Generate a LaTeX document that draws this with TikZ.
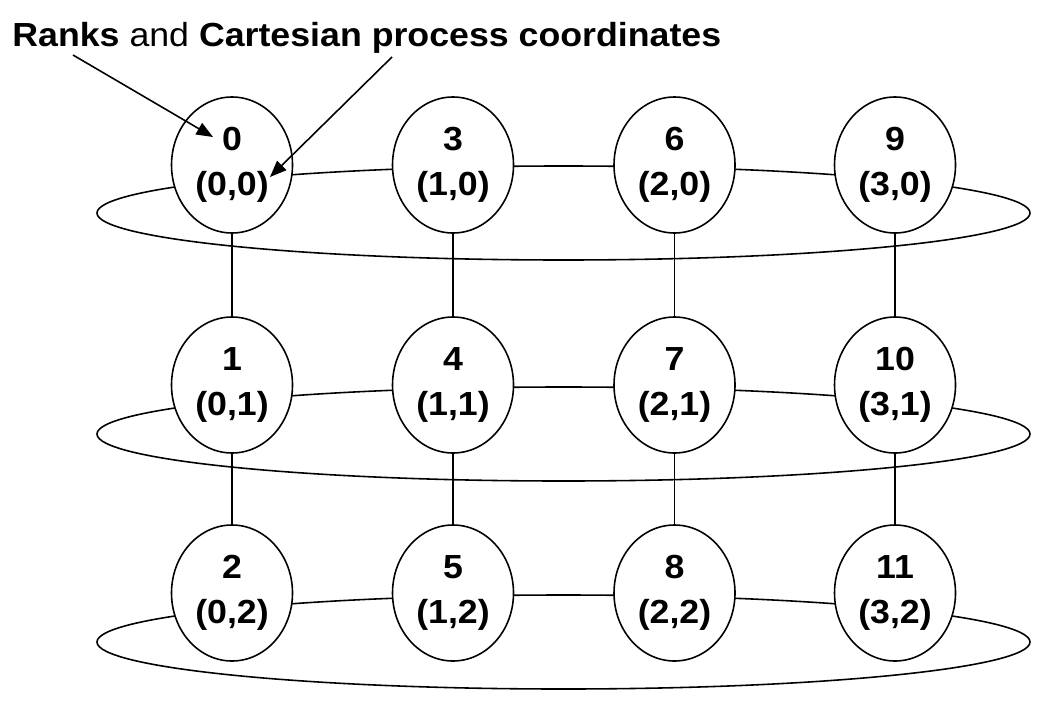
\documentclass[tikz,border=0pt]{standalone}
\usepackage{fontspec}
\setmainfont[FakeStretch=1.07]{Liberation Sans}
\usetikzlibrary{shapes.geometric,arrows.meta}
\begin{document}
\begin{tikzpicture}[x=0.2mm,y=-0.2mm,
    proc/.style={ellipse, draw, fill=white, line width=0.9pt, inner sep=0pt,
      minimum width=2.42cm, minimum height=2.72cm, align=center,
      font=\bfseries\fontsize{19}{25.6}\selectfont},
    ring/.style={line width=0.9pt},
    link/.style={line width=0.9pt},
    pointer/.style={line width=0.9pt, -{Triangle[length=3.3mm,width=2.6mm]}}]
    \useasboundingbox (0,0) rectangle (1044,701);
    % rings, one per row
    \draw [ring] (563.5,213) ellipse [x radius=9.33cm, y radius=0.94cm];
    \draw [ring] (563.5,434) ellipse [x radius=9.33cm, y radius=0.94cm];
    \draw [ring] (563.5,642) ellipse [x radius=9.33cm, y radius=0.94cm];
    % processes
    \node [proc] (r0) at (232,165) {0\\(0,0)};
    \node [proc] (r1) at (232,385) {1\\(0,1)};
    \node [proc] (r2) at (232,593) {2\\(0,2)};
    \node [proc] (r3) at (453,165) {3\\(1,0)};
    \node [proc] (r4) at (453,385) {4\\(1,1)};
    \node [proc] (r5) at (453,593) {5\\(1,2)};
    \node [proc] (r6) at (674.5,165) {6\\(2,0)};
    \node [proc] (r7) at (674.5,385) {7\\(2,1)};
    \node [proc] (r8) at (674.5,593) {8\\(2,2)};
    \node [proc] (r9) at (895,165) {9\\(3,0)};
    \node [proc] (r10) at (895,385) {10\\(3,1)};
    \node [proc] (r11) at (895,593) {11\\(3,2)};
    \draw [link] (r0) -- (r1) -- (r2);
    \draw [link] (r3) -- (r4) -- (r5);
    \draw [link] (r6) -- (r7) -- (r8);
    \draw [link] (r9) -- (r10) -- (r11);
    % caption and pointers
    \node [anchor=base west, inner sep=0pt, font=\fontsize{19}{23}\selectfont] (title) at (12,47)
      {\textbf{Ranks} and \textbf{Cartesian process coordinates}};
    \coordinate (rankfrom) at (73,55);
    \coordinate (rankto) at (213,137);
    \coordinate (cartfrom) at (392,57);
    \coordinate (cartto) at (270,177);
    \draw [pointer] (rankfrom) -- (rankto);
    \draw [pointer] (cartfrom) -- (cartto);
\end{tikzpicture}
\end{document}
